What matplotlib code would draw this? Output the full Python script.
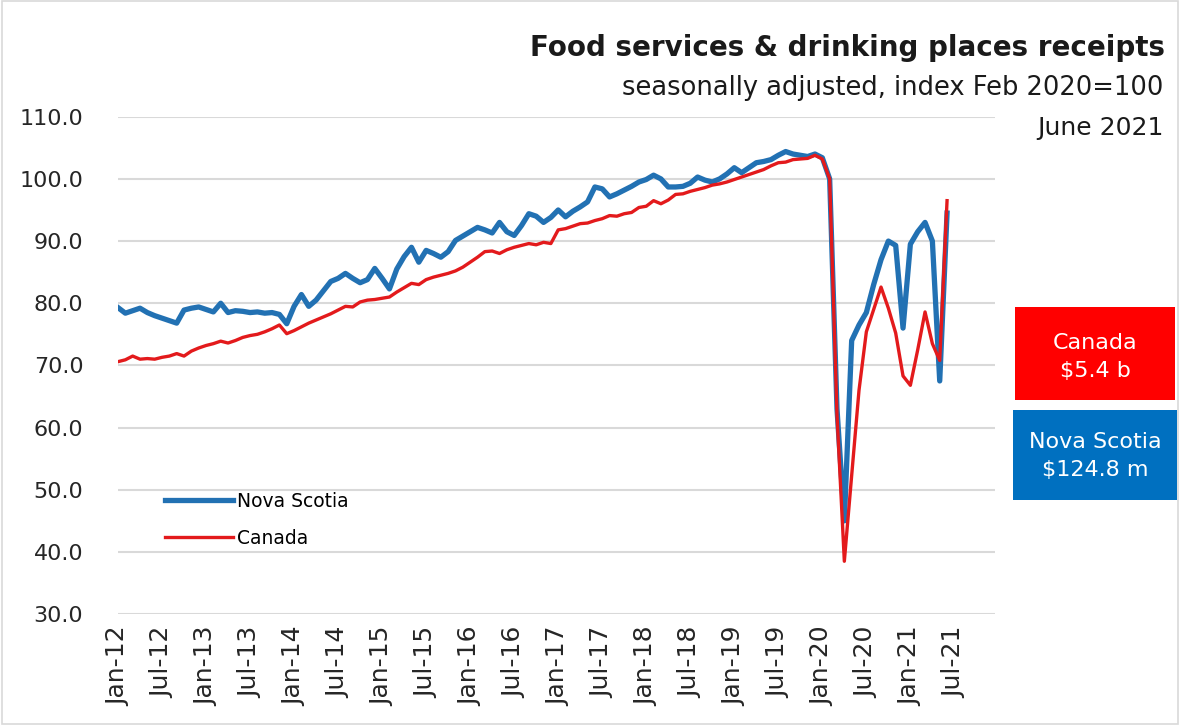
import matplotlib
matplotlib.use('Agg')
import matplotlib.pyplot as plt
from matplotlib.patches import Rectangle
import numpy as np

# monthly index, Feb 2020 = 100, Jan-12 .. Jun-21
nova_scotia = [
    79.3, 78.4, 78.8, 79.2, 78.5, 78.0, 77.6, 77.2, 76.8, 78.9, 79.2, 79.4,   # 2012
    79.0, 78.6, 80.0, 78.5, 78.8, 78.7, 78.5, 78.6, 78.4, 78.5, 78.2, 76.7,   # 2013
    79.5, 81.4, 79.5, 80.5, 82.0, 83.5, 84.0, 84.8, 84.0, 83.3, 83.8, 85.6,   # 2014
    84.0, 82.3, 85.5, 87.5, 89.0, 86.6, 88.5, 88.0, 87.4, 88.3, 90.1, 90.8,   # 2015
    91.5, 92.2, 91.8, 91.3, 93.0, 91.5, 90.9, 92.5, 94.4, 94.0, 93.0, 93.8,   # 2016
    95.0, 93.9, 94.8, 95.5, 96.3, 98.7, 98.4, 97.1, 97.6, 98.2, 98.8, 99.5,   # 2017
    99.9, 100.6, 100.0, 98.7, 98.7, 98.8, 99.3, 100.3, 99.8, 99.5, 100.0, 100.8,  # 2018
    101.8, 101.0, 101.8, 102.6, 102.8, 103.1, 103.8, 104.4, 104.0, 103.8, 103.6, 104.0,  # 2019
    103.4, 100.0, 63.0, 45.0, 74.0, 76.5, 78.5, 83.0, 87.0, 90.0, 89.3, 76.0,  # 2020
    89.5, 91.5, 93.0, 90.0, 67.5, 94.5,                                       # 2021
]
canada = [
    70.6, 70.9, 71.5, 71.0, 71.1, 71.0, 71.3, 71.5, 71.9, 71.5, 72.3, 72.8,   # 2012
    73.2, 73.5, 73.9, 73.6, 74.0, 74.5, 74.8, 75.0, 75.4, 75.9, 76.5, 75.1,   # 2013
    75.6, 76.2, 76.8, 77.3, 77.8, 78.3, 78.9, 79.5, 79.4, 80.2, 80.5, 80.6,   # 2014
    80.8, 81.0, 81.8, 82.5, 83.2, 83.0, 83.8, 84.2, 84.5, 84.8, 85.2, 85.8,   # 2015
    86.6, 87.4, 88.3, 88.4, 88.0, 88.6, 89.0, 89.3, 89.6, 89.4, 89.8, 89.6,   # 2016
    91.8, 92.0, 92.4, 92.8, 92.9, 93.3, 93.6, 94.1, 94.0, 94.4, 94.6, 95.4,   # 2017
    95.6, 96.5, 96.0, 96.6, 97.5, 97.6, 98.0, 98.3, 98.6, 99.0, 99.2, 99.5,   # 2018
    99.9, 100.3, 100.7, 101.1, 101.5, 102.1, 102.6, 102.7, 103.1, 103.2, 103.3, 103.8,  # 2019
    103.2, 100.0, 62.0, 38.5, 52.3, 66.0, 75.4, 79.0, 82.6, 79.2, 75.2, 68.3,  # 2020
    66.8, 72.5, 78.6, 73.5, 70.8, 96.5,                                       # 2021
]
tick_labels = ['Jan-12', 'Jul-12', 'Jan-13', 'Jul-13', 'Jan-14', 'Jul-14', 'Jan-15',
               'Jul-15', 'Jan-16', 'Jul-16', 'Jan-17', 'Jul-17', 'Jan-18', 'Jul-18',
               'Jan-19', 'Jul-19', 'Jan-20', 'Jul-20', 'Jan-21', 'Jul-21']

blue = '#2271b3'
red = '#e31a1c'


def main():
    plt.rcParams['font.family'] = ['DejaVu Sans']
    fig = plt.figure(figsize=(11.8, 7.25), dpi=100)
    ax = fig.add_axes([0.1, 0.153, 0.743, 0.686])

    months = np.arange(len(nova_scotia))
    ax.plot(months, nova_scotia, color=blue, lw=3.8, label='Nova Scotia',
            solid_joinstyle='round')
    ax.plot(months, canada, color=red, lw=2.4, label='Canada',
            solid_joinstyle='round')

    ax.set_xlim(0, 119.5)
    ax.set_ylim(30, 110)
    ax.set_yticks(np.arange(30, 111, 10))
    ax.set_yticklabels(['%.1f' % v for v in np.arange(30, 111, 10)])
    ax.set_xticks(np.arange(0, 6 * len(tick_labels), 6))
    ax.set_xticklabels(tick_labels, rotation=90)
    ax.tick_params(axis='both', length=0, colors='#262626')
    ax.tick_params(axis='y', pad=25, labelsize=16)
    ax.tick_params(axis='x', pad=9, labelsize=18)

    ax.grid(axis='y', color='#d9d9d9', lw=1.5)
    ax.set_axisbelow(True)
    for s in ax.spines.values():
        s.set_visible(False)

    ax.legend(loc='upper left', bbox_to_anchor=(165 / 1180, 1 - 492 / 725),
              bbox_transform=fig.transFigure, frameon=False, fontsize=13.5,
              handlelength=3.6, handletextpad=0.25, labelspacing=0.95,
              borderaxespad=0, borderpad=0)

    fig.text(0.987, 1 - 48 / 725, 'Food services & drinking places receipts',
             ha='right', va='center', fontsize=20, fontweight='bold', color='#1a1a1a')
    fig.text(0.986, 1 - 88 / 725, 'seasonally adjusted, index Feb 2020=100',
             ha='right', va='center', fontsize=18.5, color='#1a1a1a')
    fig.text(0.986, 1 - 128 / 725, 'June 2021',
             ha='right', va='center', fontsize=18, color='#1a1a1a')

    # value boxes
    fig.patches.append(Rectangle((1015 / 1180, 1 - 400 / 725), 160 / 1180, 93 / 725,
                                 transform=fig.transFigure, facecolor='#ff0000',
                                 edgecolor='none'))
    fig.text(1095 / 1180, 1 - 357 / 725, 'Canada\n$5.4 b', ha='center', va='center',
             fontsize=16, color='white', linespacing=1.55)
    fig.patches.append(Rectangle((1013 / 1180, 1 - 500 / 725), 164 / 1180, 90 / 725,
                                 transform=fig.transFigure, facecolor='#0070c0',
                                 edgecolor='none'))
    fig.text(1095 / 1180, 1 - 456 / 725, 'Nova Scotia\n$124.8 m', ha='center',
             va='center', fontsize=16, color='white', linespacing=1.55)

    fig.patches.append(Rectangle((0.002, 0.002), 0.996, 0.996, transform=fig.transFigure,
                                 facecolor='none', edgecolor='#d9d9d9', lw=1.2))

    fig.savefig('out.png', dpi=100)


if __name__ == '__main__':
    main()
